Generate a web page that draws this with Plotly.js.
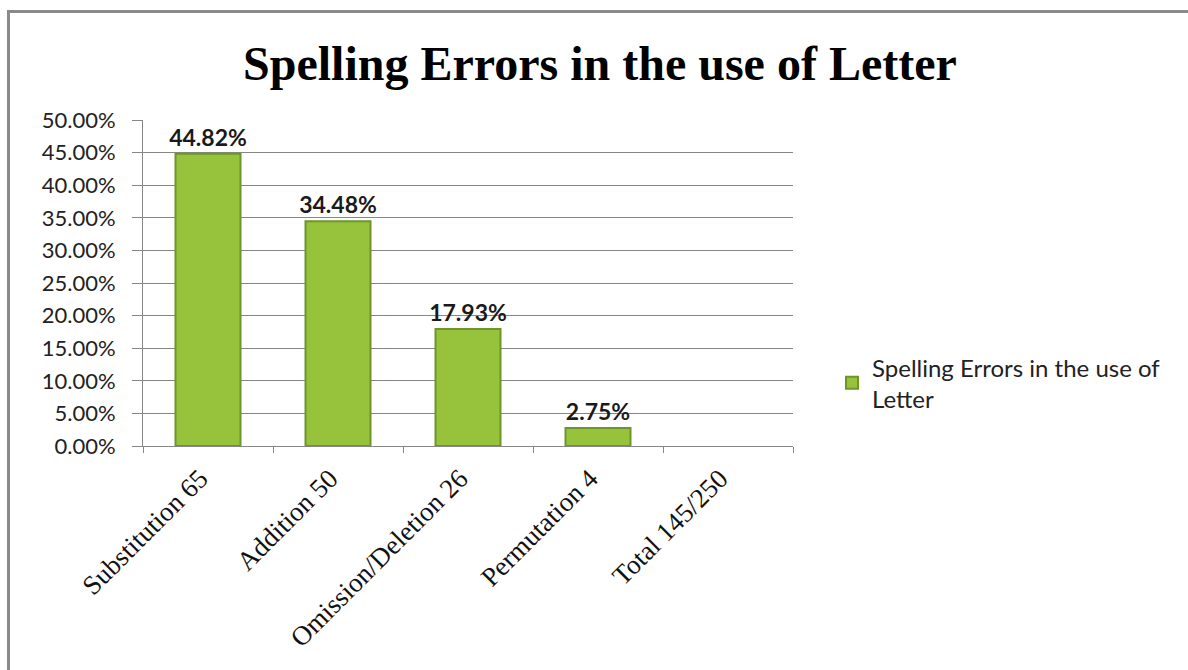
<!DOCTYPE html>
<html>
<head>
<meta charset="utf-8">
<script src="https://cdn.plot.ly/plotly-3.0.1.min.js"></script>
<style>
  html, body { margin: 0; padding: 0; background: #fff; }
  #wrap { position: relative; width: 1188px; height: 670px; overflow: hidden; }
  #chart { position: absolute; left: 0; top: 0; width: 1188px; height: 670px; }
  #frame { position: absolute; left: 7px; top: 10px; right: -5px; bottom: -5px; border-top: 3px solid #8a8a8a; border-left: 3px solid #8a8a8a; pointer-events: none; }
</style>
</head>
<body>
<div id="wrap">
  <div id="chart"></div>
  <div id="frame"></div>
</div>
<script>
const categories = ["Substitution 65", "Addition 50", "Omission/Deletion 26", "Permutation 4", "Total 145/250"];
const percentages = [44.82, 34.48, 17.93, 2.75, null];
const seriesName = "Spelling Errors in the use of<br>Letter";
const titleText = "Spelling Errors in the use of Letter";

const trace = {
  type: "bar",
  x: categories,
  y: percentages,
  name: seriesName,
  marker: { color: "#96c23c", line: { color: "#6c962a", width: 2 } },
  texttemplate: "%{y:.2f}%",
  textposition: "outside",
  constraintext: "none",
  cliponaxis: false,
  textfont: { family: "Lato, 'DejaVu Sans', sans-serif", size: 23, color: "#1a1a1a", weight: "bold" },
  hoverinfo: "none"
};

const layout = {
  width: 1188, height: 670,
  margin: { l: 143, r: 395, t: 120, b: 224 },
  paper_bgcolor: "rgba(0,0,0,0)",
  plot_bgcolor: "#ffffff",
  title: {
    text: "<b>" + titleText + "</b>",
    font: { family: "'Liberation Serif', 'Times New Roman', serif", size: 48, color: "#000" },
    x: 0.505, xanchor: "center", y: 0.905, yanchor: "middle"
  },
  bargap: 0.5,
  showlegend: true,
  legend: {
    x: 1.06, xanchor: "left", y: 0.193, yanchor: "middle",
    font: { family: "Lato, 'DejaVu Sans', sans-serif", size: 24, color: "#222" },
    itemwidth: 30, tracegroupgap: 0
  },
  xaxis: {
    type: "category",
    tickangle: -45,
    ticks: "outside", tickson: "boundaries", ticklen: 6, tickcolor: "#868686",
    ticklabelshift: -8, ticklabelstandoff: 5,
    showline: true, linecolor: "#868686", linewidth: 1,
    tickfont: { family: "'Liberation Serif', 'Times New Roman', serif", size: 27, color: "#111" },
    showgrid: false
  },
  yaxis: {
    range: [0, 50],
    tick0: 0, dtick: 5,
    tickformat: ".2f", ticksuffix: "%",
    ticks: "outside", ticklen: 10, tickcolor: "#868686",
    ticklabelstandoff: 12,
    showline: true, linecolor: "#868686", linewidth: 1,
    showgrid: true, gridcolor: "#868686", gridwidth: 1,
    zeroline: false,
    tickfont: { family: "Lato, 'DejaVu Sans', sans-serif", size: 22, color: "#222" }
  }
};

Plotly.newPlot("chart", [trace], layout, { displayModeBar: false, staticPlot: true });
</script>
</body>
</html>
